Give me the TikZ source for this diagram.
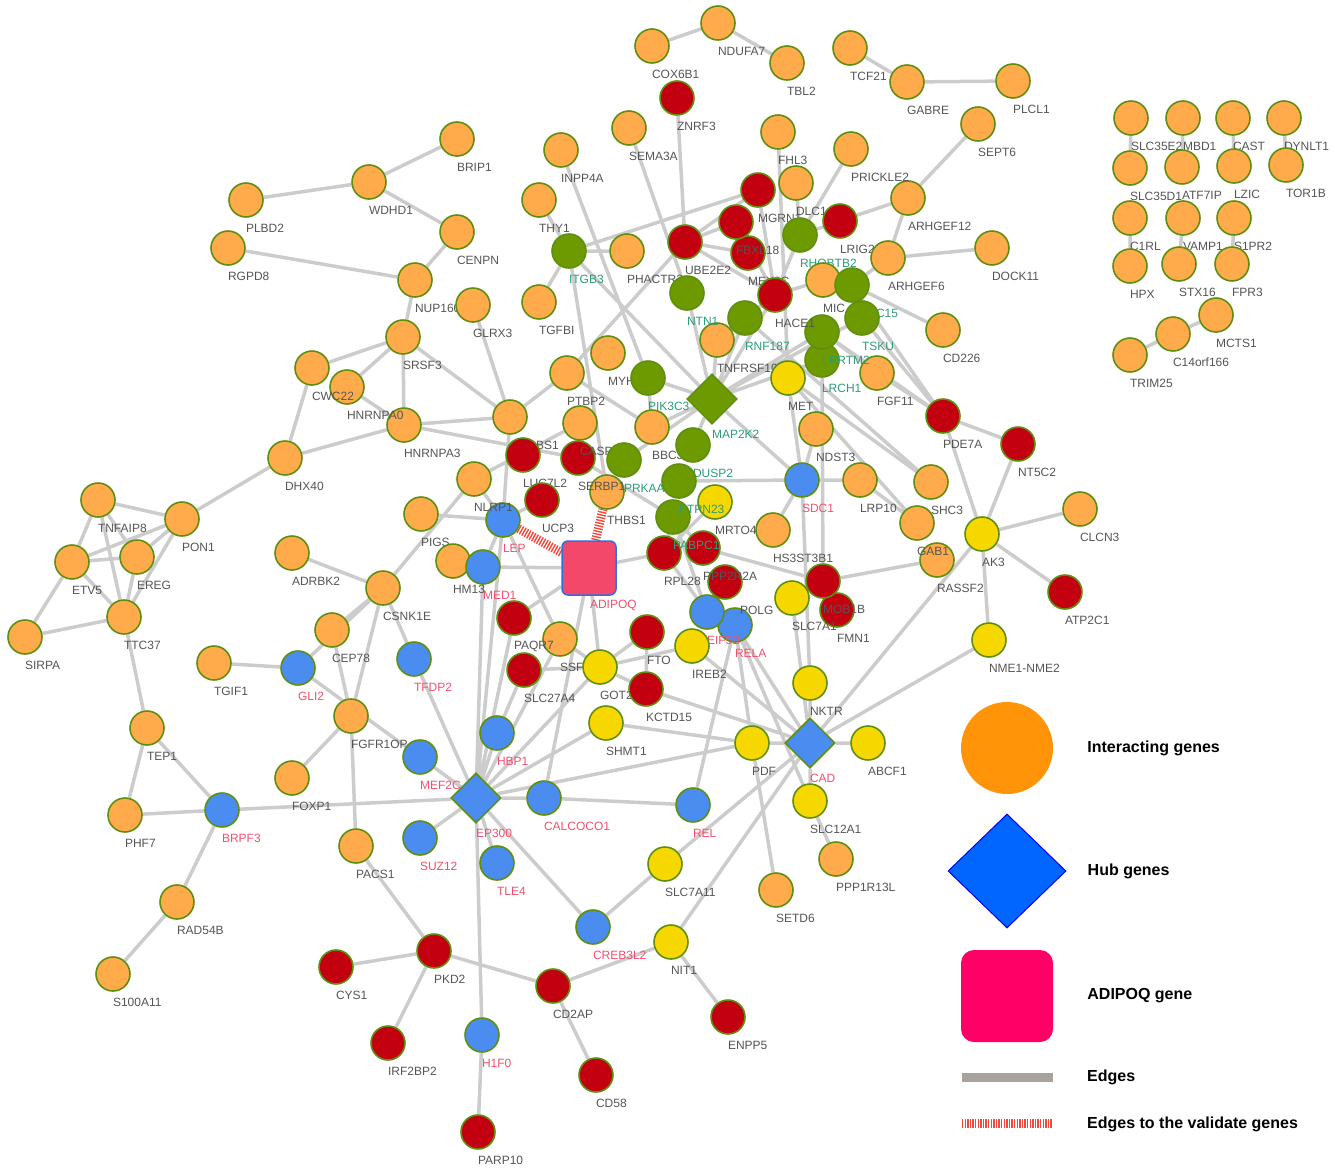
\documentclass[tikz,border=0pt]{standalone}
\usepackage{fontspec}
\setmainfont{Liberation Sans}
\usetikzlibrary{positioning,shapes.geometric,backgrounds}
\definecolor{gorange}{HTML}{FFAB4C}
\definecolor{gred}{HTML}{C2000F}
\definecolor{gyellow}{HTML}{F6D800}
\definecolor{ggreen}{HTML}{6C9A00}
\definecolor{gblue}{HTML}{4A8CF0}
\definecolor{nodeedge}{HTML}{5F8F0F}
\definecolor{lblgrey}{HTML}{555555}
\definecolor{lblteal}{HTML}{2A9D78}
\definecolor{lblpink}{HTML}{F2506E}
\definecolor{linkgrey}{HTML}{CCCCCC}
\definecolor{valred}{HTML}{F24A3A}
\definecolor{adipink}{HTML}{F4486A}
\definecolor{adiblue}{HTML}{2D6FE8}
\definecolor{legorange}{HTML}{FF9408}
\definecolor{legblue}{HTML}{0066FF}
\definecolor{legpink}{HTML}{FF0066}
\definecolor{legline}{HTML}{A8A29C}
\newcommand{\lft}[1]{\makebox[0pt][l]{#1}}
\tikzset{
  gene/.style ={circle, draw=nodeedge, line width=1.6pt, minimum size=34pt, inner sep=0pt},
  lbl/.style  ={yshift=-28pt, inner sep=0pt, font=\fontsize{12}{13}\selectfont, text=lblgrey},
  og/.style   ={gene, fill=gorange, label={[lbl]center:\lft{#1}}},
  rg/.style   ={gene, fill=gred, label={[lbl]center:\lft{#1}}},
  yg/.style   ={gene, fill=gyellow, label={[lbl]center:\lft{#1}}},
  gg/.style   ={gene, fill=ggreen, label={[lbl,text=lblteal]center:\lft{#1}}},
  bg/.style   ={gene, fill=gblue, label={[lbl,text=lblpink]center:\lft{#1}}},
  hub/.style  ={diamond, draw=nodeedge, line width=1.6pt, minimum width=50pt, minimum height=50pt, inner sep=0pt},
  hubb/.style ={hub, fill=gblue, label={[lbl,yshift=-7pt,text=lblpink]center:\lft{#1}}},
  hubg/.style ={hub, fill=ggreen, label={[lbl,yshift=-7pt,text=lblteal]center:\lft{#1}}},
  gline/.style={draw=linkgrey, line width=3.5pt},
  vline/.style={draw=valred, line width=9pt, dash pattern=on 1.4pt off 1.4pt},
  legtxt/.style={font=\fontsize{16}{18}\selectfont\bfseries, text=black, inner sep=0pt}
}
\begin{document}
\begin{tikzpicture}[x=1pt,y=-1pt]
  \useasboundingbox (0,0) rectangle (1335,1170);
  % --- isolated pairs, top right
  \node[og=SLC35E2] (slc35e2) at (1131,118) {};
  \node[og=MBD1]    (mbd1)    at (1183,118) {};
  \node[og=CAST]    (cast)    at (1233,118) {};
  \node[og=DYNLT1]  (dynlt1)  at (1284,118) {};
  \node[og=SLC35D1] (slc35d1) at (1130,168) {};
  \node[og=ATF7IP]  (atf7ip)  at (1182,167) {};
  \node[og=LZIC]    (lzic)    at (1234,166) {};
  \node[og=TOR1B]   (tor1b)   at (1286,165) {};
  \node[og=C1RL]    (c1rl)    at (1130,218) {};
  \node[og=VAMP1]   (vamp1)   at (1183,218) {};
  \node[og=S1PR2]   (s1pr2)   at (1234,218) {};
  \node[og=HPX]     (hpx)     at (1130,266) {};
  \node[og=STX16]   (stx16)   at (1179,264) {};
  \node[og=FPR3]    (fpr3)    at (1232,264) {};
  \node[og=MCTS1]   (mcts1)   at (1216,315) {};
  \node[og=C14orf166] (c14orf166) at (1173,334) {};
  \node[og=TRIM25]  (trim25)  at (1130,355) {};
  % --- top
  \node[og=COX6B1]  (cox6b1)  at (652,46) {};
  \node[og=NDUFA7]  (ndufa7)  at (718,23) {};
  \node[og=TBL2]    (tbl2)    at (787,63) {};
  \node[og=TCF21]   (tcf21)   at (850,48) {};
  \node[og=GABRE]   (gabre)   at (907,82) {};
  \node[og=PLCL1]   (plcl1)   at (1013,81) {};
  \node[og=SEPT6]   (sept6)   at (978,124) {};
  \node[og=ARHGEF12] (arhgef12) at (908,198) {};
  \node[og=DOCK11]  (dock11)  at (992,248) {};
  \node[og=CD226]   (cd226)   at (943,330) {};
  \node[og=SEMA3A]  (sema3a)  at (629,128) {};
  \node[og=INPP4A]  (inpp4a)  at (561,150) {};
  \node[og=THY1]    (thy1)    at (539,200) {};
  \node[og=PHACTR2] (phactr2) at (627,251) {};
  \node[og=TGFBI]   (tgfbi)   at (539,302) {};
  \node[og=FHL3]    (fhl3)    at (778,132) {};
  \node[og=PRICKLE2] (prickle2) at (851,149) {};
  \node[og=DLC1]    (dlc1)    at (796,183) {};
  \node[rg=ZNRF3]   (znrf3)   at (677,98) {};
  % --- left
  \node[og=BRIP1]   (brip1)   at (457,139) {};
  \node[og=WDHD1]   (wdhd1)   at (369,182) {};
  \node[og=PLBD2]   (plbd2)   at (246,200) {};
  \node[og=RGPD8]   (rgpd8)   at (228,248) {};
  \node[og=CENPN]   (cenpn)   at (457,232) {};
  \node[og=NUP160]  (nup160)  at (415,280) {};
  \node[og=GLRX3]   (glrx3)   at (473,305) {};
  \node[og=SRSF3]   (srsf3)   at (403,337) {};
  \node[og=HNRNPA3] (hnrnpa3) at (404,425) {};
  \node[og=HNRNPA0] (hnrnpa0) at (347,387) {};
  \node[og=CWC22]   (cwc22)   at (312,368) {};
  \node[og=DHX40]   (dhx40)   at (285,458) {};
  \node[og=TNFAIP8] (tnfaip8) at (98,500) {};
  \node[og=PON1]    (pon1)    at (182,519) {};
  \node[og=ETV5]    (etv5)    at (72,562) {};
  \node[og=EREG]    (ereg)    at (137,557) {};
  \node[og=TTC37]   (ttc37)   at (124,617) {};
  \node[og=SIRPA]   (sirpa)   at (25,637) {};
  \node[og=TEP1]    (tep1)    at (147,728) {};
  \node[og=PHF7]    (phf7)    at (125,815) {};
  \node[og=RAD54B]  (rad54b)  at (177,902) {};
  \node[og=S100A11] (s100a11) at (113,974) {};
  \node[og=ADRBK2]  (adrbk2)  at (292,553) {};
  \node[og=CSNK1E]  (csnk1e)  at (383,588) {};
  \node[og=CEP78]   (cep78)   at (332,630) {};
  \node[og=TGIF1]   (tgif1)   at (214,663) {};
  \node[og=FGFR1OP] (fgfr1op) at (351,716) {};
  \node[og=FOXP1]   (foxp1)   at (292,778) {};
  \node[og=PACS1]   (pacs1)   at (356,846) {};
  \node[bg=BRPF3]   (brpf3)   at (222,810) {};
  \node[bg=GLI2]    (gli2)    at (298,668) {};
  \node[bg=TFDP2]   (tfdp2)   at (414,659) {};
  \node[bg=MEF2C]   (mef2c)   at (420,757) {};
  \node[bg=SUZ12]   (suz12)   at (420,838) {};
  % --- bottom
  \node[rg=CYS1]    (cys1)    at (336,967) {};
  \node[rg=PKD2]    (pkd2)    at (434,951) {};
  \node[rg=IRF2BP2] (irf2bp2) at (388,1043) {};
  \node[rg=PARP10]  (parp10)  at (478,1132) {};
  \node[rg=CD2AP]   (cd2ap)   at (553,986) {};
  \node[rg=CD58]    (cd58)    at (596,1075) {};
  \node[rg=ENPP5]   (enpp5)   at (728,1017) {};
  \node[yg=NIT1]    (nit1)    at (671,942) {};
  \node[bg=H1F0]    (h1f0)    at (482,1035) {};
  \node[bg=CREB3L2] (creb3l2) at (593,927) {};
  \node[bg=HBP1]    (hbp1)    at (497,733) {};
  \node[bg=TLE4]    (tle4)    at (497,863) {};
  \node[bg=CALCOCO1] (calcoco1) at (544,798) {};
  \node[bg=REL]     (rel)     at (693,805) {};
  \node[yg=SLC7A11] (slc7a11) at (665,864) {};
  \node[og=SETD6]   (setd6)   at (776,890) {};
  \node[og=PPP1R13L] (ppp1r13l) at (836,859) {};
  \node[yg=SLC12A1] (slc12a1) at (810,801) {};
  \node[yg=PDF]     (pdf)     at (752,743) {};
  \node[yg=ABCF1]   (abcf1)   at (868,743) {};
  \node[yg=NKTR]    (nktr)    at (810,683) {};
  \node[yg=SHMT1]   (shmt1)   at (606,723) {};
  \node[hubb=EP300] (ep300)   at (476,798) {};
  \node[hubb=CAD]   (cad)     at (810,743) {};
  % --- right
  \node[og=NDST3]   (ndst3)   at (816,429) {};
  \node[og=LRP10]   (lrp10)   at (860,480) {};
  \node[og=SHC3]    (shc3)    at (931,482) {};
  \node[og=RASSF2]  (rassf2)  at (937,560) {};
  \node[og=GAB1]    (gab1)    at (917,523) {};
  \node[og=CLCN3]   (clcn3)   at (1080,509) {};
  \node[og=HS3ST3B1] (hs3st3b1) at (773,530) {};
  \node[rg=PDE7A]   (pde7a)   at (943,416) {};
  \node[rg=NT5C2]   (nt5c2)   at (1018,444) {};
  \node[rg=ATP2C1]  (atp2c1)  at (1065,592) {};
  \node[rg=FMN1]    (fmn1)    at (837,610) {};
  \node[rg=MOB1B]   (mob1b)   at (823,581) {};
  \node[yg=AK3]     (ak3)     at (982,534) {};
  \node[yg=NME1-NME2] (nme)   at (989,640) {};
  \node[yg=SLC7A1]  (slc7a1)  at (792,598) {};
  % --- centre
  \node[og=SORBS1]  (sorbs1)  at (510,417) {};
  \node[og=PTBP2]   (ptbp2)   at (567,373) {};
  \node[og=MYH]     (myh)     at (608,353) {};
  \node[og=BBC3]    (bbc3)    at (652,427) {};
  \node[og=THBS1]   (thbs1)   at (607,492) {};
  \node[og=PIGS]    (pigs)    at (421,514) {};
  \node[og=HM13]    (hm13)    at (453,561) {};
  \node[og=SSF]     (ssf)     at (560,639) {};
  \node[og=TNFRSF10B] (tnfrsf10b) at (717,340) {};
  \node[rg=LUC7L2]  (luc7l2)  at (523,455) {};
  \node[rg=SERBP1]  (serbp1)  at (578,458) {};
  \node[og=CASP]    (casp)    at (580,423) {};
  \node[rg=UCP3]    (ucp3)    at (542,500) {};
  \node[rg=RPL28]   (rpl28)   at (664,553) {};
  \node[rg=PAQR7]   (paqr7)   at (514,618) {};
  \node[rg=FTO]     (fto)     at (647,632) {};
  \node[rg=SLC27A4] (slc27a4) at (524,670) {};
  \node[bg=LEP]     (lep)     at (503,520) {};
  \node[og=NLRP1]   (nlrp1)   at (474,479) {};
  \node[bg=MED1]    (med1)    at (483,567) {};
  \node[bg=SDC1]    (sdc1)    at (802,480) {};
  \node[bg=RELA]    (rela)    at (735,625) {};
  \node[bg=EIF5B]   (eif5b)   at (707,612) {};
  \node[gene,fill=gred,label={[lbl,xshift=15pt]center:\lft{POLG}}] (polg) at (725,582) {};
  \node[rg=PPP2R2A] (ppp2r2a) at (703,548) {};
  \node[yg=MRTO4]   (mrto4)   at (715,502) {};
  \node[yg=MET]     (met)     at (788,378) {};
  \node[yg=GOT2]    (got2)    at (600,667) {};
  \node[yg=IREB2]   (ireb2)   at (692,646) {};
  \node[rg=KCTD15]  (kctd15)  at (646,689) {};
  \node[gg=PIK3C3]  (pik3c3)  at (648,378) {};
  \node[hubg=MAP2K2] (map2k2) at (712,399) {};
  \node[gg=DUSP2]   (dusp2)   at (693,445) {};
  \node[gg=PRKAA]   (prkaa)   at (624,460) {};
  \node[gg=PABPC1]  (pabpc1)  at (673,517) {};
  \node[gg=PTPN23]  (ptpn23)  at (679,481) {};
  \node[rectangle, rounded corners=6pt, fill=adipink, draw=adiblue, line width=1.5pt,
        minimum size=54pt, inner sep=0pt,
        label={[lbl,xshift=1pt,yshift=-9pt,text=lblpink]center:\lft{ADIPOQ}}] (adipoq) at (589,568) {};
  % --- upper cluster
  \node[rg=MGRN1]   (mgrn1)   at (758,190) {};
  \node[rg=MEX3C]   (mex3c)   at (748,253) {};
  \node[rg=FBXL18]  (fbxl18)  at (736,222) {};
  \node[rg=UBE2E2]  (ube2e2)  at (685,242) {};
  \node[rg=LRIG2]   (lrig2)   at (840,221) {};
  \node[og=ARHGEF6] (arhgef6) at (888,258) {};
  \node[gg=ITGB3]   (itgb3)   at (569,251) {};
  \node[gg=RHOBTB2] (rhobtb2) at (800,235) {};
  \node[og=MIC]     (mic)     at (823,280) {};
  \node[gg=LRRC15]  (lrrc15)  at (852,285) {};
  \node[gg=TSKU]    (tsku)    at (862,318) {};
  \node[gg=NTN1]    (ntn1)    at (687,293) {};
  \node[gg=RNF187]  (rnf187)  at (745,318) {};
  \node[og=FGF11]   (fgf11)   at (877,373) {};
  \node[gg=LRCH1]   (lrch1)   at (822,360) {};
  \node[gg=LRRTM2]  (lrrtm2)  at (822,332) {};
  \node[rg=HACE1]   (hace1)   at (775,295) {};

  % --- legend
  \node[circle, fill=legorange, minimum size=92pt, inner sep=0pt] (legint) at (1007,748) {};
  \node[legtxt, right=34pt of legint] (legintt) {Interacting genes};
  \node[diamond, fill=legblue, draw=blue, line width=1pt, minimum width=118pt, minimum height=114pt, inner sep=0pt] (leghub) at (1007,871) {};
  \node[legtxt, right=21pt of leghub] (leghubt) {Hub genes};
  \node[rectangle, rounded corners=13pt, fill=legpink, minimum size=92pt, inner sep=0pt] (legadi) at (1007,996) {};
  \node[legtxt, right=34pt of legadi] (legadit) {ADIPOQ gene};
  \coordinate (lege1) at (962,1077);
  \coordinate (lege2) at (1053,1077);
  \draw[draw=legline, line width=9pt] (lege1) -- (lege2);
  \node[legtxt, anchor=west] (legedget) at (1087,1077) {Edges};
  \coordinate (legv1) at (962,1123);
  \coordinate (legv2) at (1052,1123);
  \draw[draw=valred, line width=9pt, dash pattern=on 1.3pt off 1.3pt] (legv1) -- (legv2);
  \node[legtxt, anchor=west] (legvt) at (1087,1124) {Edges to the validate genes};

  \begin{scope}[on background layer]
    % isolated
    \draw[gline] (slc35e2)--(slc35d1) (mbd1)--(atf7ip) (cast)--(lzic) (dynlt1)--(tor1b)
                 (c1rl)--(hpx) (vamp1)--(stx16) (s1pr2)--(fpr3)
                 (trim25)--(c14orf166) (c14orf166)--(mcts1);
    % top
    \draw[gline] (cox6b1)--(ndufa7) (ndufa7)--(tbl2) (tcf21)--(gabre) (gabre)--(plcl1)
                 (sept6)--(arhgef12) (arhgef12)--(arhgef6) (arhgef6)--(dock11)
                 (arhgef12)--(lrig2) (arhgef6)--(lrrc15) (prickle2)--(rhobtb2)
                 (dlc1)--(rhobtb2) (fhl3)--(met) (znrf3)--(ube2e2) (sema3a)--(ntn1)
                 (inpp4a)--(pik3c3) (thy1)--(itgb3) (itgb3)--(tgfbi) (itgb3)--(phactr2)
                 (itgb3)--(mgrn1) (itgb3)--(map2k2) (itgb3)--(thbs1)
                 (ube2e2)--(mgrn1) (ube2e2)--(fbxl18) (ube2e2)--(mex3c) (ube2e2)--(hace1)
                 (ube2e2)--(ptbp2) (mgrn1)--(hace1) (fbxl18)--(hace1) (rhobtb2)--(hace1)
                 (lrrc15)--(cd226) (mic)--(hace1) (lrig2)--(rhobtb2);
    \draw[gline] (pde7a)--(lrrtm2) (pde7a)--(tsku) (pde7a)--(fgf11) (pde7a)--(lrrc15)
                 (pde7a)--(nt5c2) (pde7a)--(ak3) (lrrtm2)--(fgf11)
                 (map2k2)--(ntn1) (map2k2)--(rnf187) (map2k2)--(tnfrsf10b) (map2k2)--(hace1)
                 (map2k2)--(lrrtm2) (map2k2)--(lrch1) (map2k2)--(tsku) (map2k2)--(pik3c3)
                 (map2k2)--(dusp2) (map2k2)--(prkaa) (map2k2)--(sdc1) (map2k2)--(bbc3)
                 (rnf187)--(hace1) (rnf187)--(shc3) (lrch1)--(mob1b);
    % left
    \draw[gline] (brip1)--(wdhd1) (wdhd1)--(plbd2) (wdhd1)--(cenpn) (cenpn)--(nup160)
                 (rgpd8)--(nup160) (nup160)--(srsf3) (srsf3)--(cwc22) (srsf3)--(hnrnpa0)
                 (srsf3)--(hnrnpa3) (srsf3)--(sorbs1) (hnrnpa0)--(hnrnpa3) (cwc22)--(dhx40)
                 (dhx40)--(hnrnpa3) (hnrnpa3)--(sorbs1) (hnrnpa3)--(serbp1) (dhx40)--(pon1)
                 (glrx3)--(sorbs1);
    \draw[gline] (tnfaip8)--(pon1) (tnfaip8)--(etv5) (tnfaip8)--(ttc37) (tnfaip8)--(ereg)
                 (pon1)--(etv5) (pon1)--(ereg) (pon1)--(ttc37) (etv5)--(ereg) (etv5)--(ttc37)
                 (etv5)--(sirpa) (sirpa)--(ttc37) (ereg)--(ttc37) (ttc37)--(tep1)
                 (tep1)--(phf7) (tep1)--(brpf3) (phf7)--(brpf3) (brpf3)--(rad54b)
                 (rad54b)--(s100a11) (brpf3)--(ep300);
    \draw[gline] (adrbk2)--(csnk1e) (csnk1e)--(nlrp1) (pigs)--(lep) (csnk1e)--(cep78)
                 (csnk1e)--(gli2) (csnk1e)--(fgfr1op) (csnk1e)--(tfdp2) (cep78)--(fgfr1op)
                 (gli2)--(tgif1) (gli2)--(mef2c) (fgfr1op)--(foxp1) (fgfr1op)--(pacs1)
                 (tfdp2)--(ep300) (mef2c)--(ep300) (suz12)--(ep300);
    % bottom
    \draw[gline] (pacs1)--(pkd2) (pkd2)--(cys1) (pkd2)--(irf2bp2) (pkd2)--(cd2ap)
                 (cd2ap)--(nit1) (cd2ap)--(cd58) (h1f0)--(parp10) (ep300)--(h1f0)
                 (nit1)--(enpp5) (nit1)--(cad) (creb3l2)--(ep300) (creb3l2)--(slc7a11)
                 (slc7a11)--(cad) (rel)--(calcoco1) (rel)--(rela);
    \draw[gline] (ep300)--(calcoco1) (ep300)--(pdf) (ep300)--(hbp1) (ep300)--(tle4)
                 (ep300)--(got2) (ep300)--(shmt1) (ep300)--(ssf) (ep300)--(med1)
                 (ep300)--(lep) (ep300)--(paqr7) (hbp1)--(slc27a4);
    \draw[gline] (cad)--(pdf) (cad)--(abcf1) (cad)--(slc12a1) (cad)--(nktr)
                 (shmt1)--(pdf) (kctd15)--(cad) (ireb2)--(cad) (rela)--(cad)
                 (rela)--(slc12a1) (pdf)--(setd6) (cad)--(ak3) (cad)--(nme)
                 (cad)--(slc7a1) (sdc1)--(nktr) (slc12a1)--(ppp1r13l) (rela)--(pdf);
    % centre
    \draw[gline] (got2)--(fto) (got2)--(ireb2) (got2)--(ssf) (slc27a4)--(got2)
                 (kctd15)--(got2) (fto)--(kctd15)
                 (adipoq)--(med1) (adipoq)--(rpl28) (adipoq)--(paqr7) (adipoq)--(got2)
                 (adipoq)--(calcoco1)
                 (lep)--(ssf) (lep)--(ucp3) (lep)--(sorbs1) (lep)--(nlrp1) (lep)--(med1)
                 (nlrp1)--(casp) (serbp1)--(pabpc1) (ptbp2)--(sorbs1) (ptbp2)--(bbc3)
                 (pik3c3)--(bbc3) (rpl28)--(pabpc1) (rpl28)--(mrto4) (pabpc1)--(eif5b)
                 (eif5b)--(rpl28) (pabpc1)--(ppp2r2a) (ppp2r2a)--(mob1b);
    \draw[gline] (sdc1)--(met) (sdc1)--(lrp10) (sdc1)--(ptpn23) (sdc1)--(hs3st3b1)
                 (sdc1)--(ndst3) (met)--(shc3) (met)--(gab1) (lrp10)--(gab1)
                 (mob1b)--(rassf2) (ak3)--(nt5c2) (ak3)--(clcn3) (ak3)--(atp2c1)
                 (ak3)--(nme);
    % validated
    \draw[vline] (adipoq)--(lep) (adipoq)--(thbs1);
  \end{scope}
\end{tikzpicture}
\end{document}
